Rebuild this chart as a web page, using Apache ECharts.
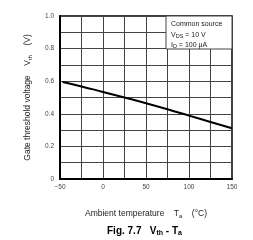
<!DOCTYPE html>
<html><head><meta charset="utf-8">
<script src="https://cdn.jsdelivr.net/npm/echarts@6/dist/echarts.min.js"></script>
<style>html,body{margin:0;padding:0;background:#fff}#c{width:253px;height:240px}</style>
</head><body><div id="c"></div>
<script>
const temps = [-47, -25, 0, 25, 50, 75, 100, 125, 150];
const vth = [0.595, 0.568, 0.534, 0.500, 0.465, 0.428, 0.389, 0.350, 0.311];
const xTicks = [-50, 0, 50, 100, 150];
const yTicks = [0, 0.2, 0.4, 0.6, 0.8, 1.0];
const legendLines = ['Common source', 'V{s|DS} = 10 V', 'I{s|D} = 100 μA'];

const chart = echarts.init(document.getElementById('c'), null, {renderer: 'canvas'});
const font = 'Liberation Sans, Arial, sans-serif';
chart.setOption({
  animation: false,
  title: {
    text: 'Fig. 7.7   V{s|th} - T{s|a}',
    left: 102, top: 220,
    textStyle: {fontFamily: font, fontSize: 10, fontWeight: 'bold', color: '#000',
      rich: {s: {fontSize: 7, fontWeight: 'bold', padding: [5, 0, 0, 0], fontFamily: font}}}
  },
  grid: {left: 60, right: 21, top: 16, bottom: 61, show: true, borderColor: '#000', borderWidth: 1.5},
  xAxis: {
    type: 'value', min: -50, max: 150, interval: 25,
    name: 'Ambient temperature    T{s|a}    (°C)',
    nameLocation: 'middle', nameGap: 30,
    nameTextStyle: {fontFamily: font, fontSize: 8.5, color: '#222',
      rich: {s: {fontSize: 6, padding: [4, 0, 0, 0], fontFamily: font, color: '#222'}}},
    axisLine: {onZero: false, lineStyle: {color: '#000', width: 2}},
    axisTick: {show: false},
    axisLabel: {fontFamily: font, fontSize: 6.5, color: '#444', margin: 5,
      formatter: v => xTicks.includes(v) ? String(v).replace('-', '−') : ''},
    splitLine: {lineStyle: {color: '#444', width: 1}}
  },
  yAxis: {
    type: 'value', min: 0, max: 1, interval: 0.1,
    name: 'Gate threshold voltage    V{s|th}    (V)',
    nameLocation: 'middle', nameGap: 27, nameRotate: 90,
    nameTextStyle: {fontFamily: font, fontSize: 8.5, color: '#222',
      rich: {s: {fontSize: 6, padding: [4, 0, 0, 0], fontFamily: font, color: '#222'}}},
    axisLine: {onZero: false, lineStyle: {color: '#000', width: 2}},
    axisTick: {show: false},
    axisLabel: {fontFamily: font, fontSize: 6.5, color: '#444', margin: 6,
      formatter: v => {
        const r = Math.round(v * 10) / 10;
        if (!yTicks.some(t => Math.abs(t - r) < 1e-6)) return '';
        return r === 0 ? '0' : r.toFixed(1);
      }},
    splitLine: {lineStyle: {color: '#444', width: 1}}
  },
  series: [{
    type: 'line', data: temps.map((t, i) => [t, vth[i]]),
    smooth: true, symbol: 'none',
    lineStyle: {color: '#000', width: 2}
  }],
  graphic: [
    {type: 'rect', shape: {x: 166, y: 16, width: 66, height: 33},
     style: {fill: '#fff', stroke: '#444', lineWidth: 1}, z: 100},
    {type: 'text', x: 171, y: 19, z: 101,
     style: {text: legendLines.join('\n'), fontFamily: font, fontSize: 7, fill: '#222', lineHeight: 10.5,
       rich: {s: {fontSize: 5.5, padding: [3, 0, 0, 0], fontFamily: font, fill: '#222'}}}}
  ]
});
</script></body></html>
